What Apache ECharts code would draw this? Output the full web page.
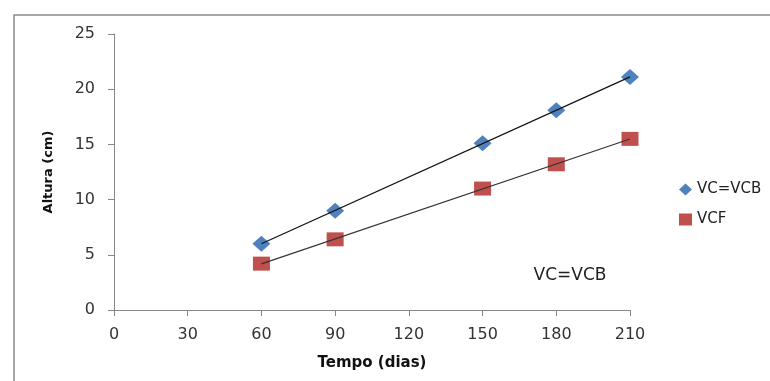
<!DOCTYPE html>
<html>
<head>
<meta charset="utf-8">
<script src="https://cdn.jsdelivr.net/npm/echarts@6/dist/echarts.min.js"></script>
<style>
  html, body { margin: 0; padding: 0; background: #fff; }
  #chart { width: 770px; height: 381px; }
</style>
</head>
<body>
<div id="chart"></div>
<script>
// Sampling days and measured plant height (cm) for each treatment
var dias = [60, 90, 150, 180, 210];
var alturaVCB = [6.0, 9.0, 15.1, 18.1, 21.1];
var alturaVCF = [4.2, 6.4, 11.0, 13.2, 15.5];
var xTicks = [0, 30, 60, 90, 120, 150, 180, 210];
var yTicks = [0, 5, 10, 15, 20, 25];

// Least-squares linear trend over the sampled days
function trend(xs, ys) {
  var n = xs.length, sx = 0, sy = 0, sxy = 0, sxx = 0;
  for (var i = 0; i < n; i++) {
    sx += xs[i]; sy += ys[i]; sxy += xs[i] * ys[i]; sxx += xs[i] * xs[i];
  }
  var b = (n * sxy - sx * sy) / (n * sxx - sx * sx);
  var a = (sy - b * sx) / n;
  var x0 = xs[0], x1 = xs[n - 1];
  return [[x0, a + b * x0], [x1, a + b * x1]];
}

function pairs(xs, ys) { return xs.map(function (x, i) { return [x, ys[i]]; }); }

var font = 'DejaVu Sans';
var chart = echarts.init(document.getElementById('chart'), null, { renderer: 'canvas' });

chart.setOption({
  animation: false,
  backgroundColor: '#fff',
  grid: { left: 114, right: 140, top: 34, bottom: 71 },
  legend: {
    orient: 'vertical',
    left: 674,
    top: 177,
    itemGap: 15,
    itemWidth: 13,
    itemHeight: 12,
    textStyle: { fontFamily: font, fontSize: 15, color: '#222' },
    data: [
      { name: 'VC=VCB', icon: 'diamond', itemStyle: { color: '#4F81BD', opacity: 1 } },
      { name: 'VCF', icon: 'rect', itemStyle: { color: '#C0504D', opacity: 1 } }
    ]
  },
  xAxis: {
    type: 'value',
    min: 0, max: 210, interval: 30,
    name: 'Tempo (dias)',
    nameLocation: 'middle',
    nameGap: 46,
    nameTextStyle: { fontFamily: font, fontSize: 15, fontWeight: 'bold', color: '#111' },
    axisLine: { show: true, lineStyle: { color: '#868686', width: 1 } },
    axisTick: { show: true, length: 6, lineStyle: { color: '#868686' } },
    splitLine: { show: false },
    axisLabel: {
      fontFamily: font, fontSize: 16, color: '#333', margin: 17,
      formatter: function (v) { return xTicks.indexOf(v) >= 0 ? String(v) : ''; }
    }
  },
  yAxis: {
    type: 'value',
    min: 0, max: 25, interval: 5,
    name: 'Altura (cm)',
    nameLocation: 'middle',
    nameGap: 59,
    nameRotate: 90,
    nameTextStyle: { fontFamily: font, fontSize: 13, fontWeight: 'bold', color: '#111' },
    axisLine: { show: true, lineStyle: { color: '#868686', width: 1 } },
    axisTick: { show: true, length: 6, lineStyle: { color: '#868686' } },
    splitLine: { show: false },
    axisLabel: {
      fontFamily: font, fontSize: 16, color: '#333', margin: 19,
      formatter: function (v) { return yTicks.indexOf(v) >= 0 ? String(v) : ''; }
    }
  },
  graphic: [
    {
      type: 'rect',
      shape: { x: 14, y: 15, width: 900, height: 500 },
      style: { fill: 'none', stroke: '#8a8a8a', lineWidth: 1.5 },
      z: 100
    },
    {
      type: 'text',
      x: 570, y: 276,
      style: {
        text: 'VC=VCB', fontFamily: font, fontSize: 17, fill: '#222',
        align: 'center', verticalAlign: 'middle'
      },
      z: 100
    }
  ],
  series: [
    {
      name: 'VC=VCB',
      type: 'scatter',
      symbol: 'diamond',
      symbolSize: [18, 16],
      itemStyle: { color: '#4F81BD', opacity: 1 },
      data: pairs(dias, alturaVCB),
      z: 2
    },
    {
      name: 'VCF',
      type: 'scatter',
      symbol: 'rect',
      symbolSize: [17, 14],
      itemStyle: { color: '#C0504D', opacity: 1 },
      data: pairs(dias, alturaVCF),
      z: 2
    },
    {
      name: 'trendVCB',
      type: 'line',
      showSymbol: false,
      silent: true,
      lineStyle: { color: '#111', width: 1.2 },
      data: trend(dias, alturaVCB),
      z: 5
    },
    {
      name: 'trendVCF',
      type: 'line',
      showSymbol: false,
      silent: true,
      lineStyle: { color: '#333', width: 1.2 },
      data: trend(dias, alturaVCF),
      z: 5
    }
  ]
});
</script>
</body>
</html>
